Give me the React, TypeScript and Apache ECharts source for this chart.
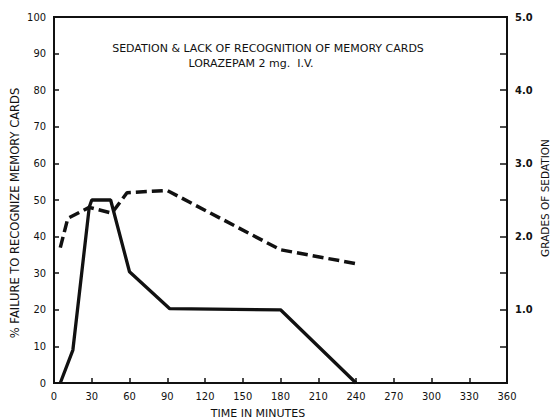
import React, { useEffect, useRef } from "react";
import * as echarts from "echarts";

const timeTicks = [0, 30, 60, 90, 120, 150, 180, 210, 240, 270, 300, 330, 360];
const failureTimes = [5, 15, 28, 30, 45, 60, 92, 180, 240];
const failureValues = [0, 9, 48, 50, 50, 30.4, 20.3, 20, 0];
const sedationTimes = [5, 11, 28, 46, 58, 90, 180, 240];
const sedationValues = [1.85, 2.25, 2.4, 2.32, 2.6, 2.63, 1.82, 1.63];
const titleLine1 = "SEDATION & LACK OF RECOGNITION OF MEMORY CARDS";
const titleLine2 = "LORAZEPAM 2 mg.  I.V.";
const xTitle = "TIME IN MINUTES";
const yLeftTitle = "% FAILURE TO RECOGNIZE MEMORY CARDS";
const yRightTitle = "GRADES OF SEDATION";

const FONT = "'DejaVu Sans Condensed', 'DejaVu Sans', sans-serif";
const WFONT = "'DejaVu Sans', sans-serif";
const INK = "#111";

export default function App() {
  const ref = useRef<HTMLDivElement>(null);
  useEffect(() => {
    if (!ref.current) return;
    const chart = echarts.init(ref.current, undefined, { renderer: "svg" });
    const axisLine = { show: true, lineStyle: { color: INK, width: 2 } };
    chart.setOption({
      animation: false,
      backgroundColor: "#fff",
      textStyle: { fontFamily: FONT, color: INK },
      grid: {
        left: 54,
        right: 46,
        top: 17,
        bottom: 37,
        show: true,
        borderColor: INK,
        borderWidth: 2,
      },
      xAxis: {
        type: "value",
        min: 0,
        max: 360,
        interval: 30,
        axisLine,
        axisTick: { show: true, inside: true, length: 5, lineStyle: { color: INK, width: 1.5 } },
        axisLabel: {
          color: INK,
          fontSize: 11,
          fontFamily: FONT,
          margin: 8,
          customValues: timeTicks,
          formatter: (v: number) => String(v),
        },
        splitLine: { show: false },
      },
      yAxis: [
        {
          type: "value",
          min: 0,
          max: 100,
          interval: 10,
          axisLine,
          axisTick: { show: true, inside: true, length: 5, lineStyle: { color: INK, width: 1.5 } },
          axisLabel: { color: INK, fontSize: 11, fontFamily: FONT, margin: 8 },
          splitLine: { show: false },
        },
        {
          type: "value",
          position: "right",
          min: 0,
          max: 5,
          interval: 0.5,
          axisLine,
          axisTick: { show: true, inside: true, length: 7, lineStyle: { color: INK, width: 1.5 } },
          axisLabel: {
            color: INK,
            fontSize: 11,
            fontFamily: FONT,
            fontWeight: "bold",
            margin: 8,
            formatter: (v: number) => (v > 0 && Math.abs(v - Math.round(v)) < 1e-6 ? v.toFixed(1) : ""),
          },
          splitLine: { show: false },
        },
      ],
      graphic: [
        {
          type: "text",
          x: 268,
          y: 48,
          style: { text: titleLine1, fontSize: 11, fontFamily: WFONT, fill: INK, align: "center", verticalAlign: "middle" },
        },
        {
          type: "text",
          x: 251,
          y: 63,
          style: { text: titleLine2, fontSize: 11, fontFamily: WFONT, fill: INK, align: "center", verticalAlign: "middle" },
        },
        {
          type: "text",
          x: 258,
          y: 413,
          style: { text: xTitle, fontSize: 11, fontFamily: WFONT, fill: INK, align: "center", verticalAlign: "middle" },
        },
        {
          type: "text",
          x: 15,
          y: 213,
          rotation: Math.PI / 2,
          style: { text: yLeftTitle, fontSize: 11.5, fontFamily: WFONT, fill: INK, align: "center", verticalAlign: "middle" },
        },
        {
          type: "text",
          x: 545,
          y: 198,
          rotation: Math.PI / 2,
          style: { text: yRightTitle, fontSize: 10.5, fontFamily: WFONT, fill: INK, align: "center", verticalAlign: "middle" },
        },
      ],
      series: [
        {
          name: "failure",
          type: "line",
          yAxisIndex: 0,
          symbol: "none",
          data: failureTimes.map((t, i) => [t, failureValues[i]]),
          lineStyle: { color: INK, width: 3.3 },
          z: 3,
        },
        {
          name: "sedation",
          type: "line",
          yAxisIndex: 1,
          symbol: "none",
          data: sedationTimes.map((t, i) => [t, sedationValues[i]]),
          lineStyle: { color: INK, width: 3.5, type: [11, 5] },
          z: 3,
        },
      ],
    });
    return () => chart.dispose();
  }, []);
  return <div ref={ref} style={{ width: 553, height: 420, position: "absolute", left: 0, top: 0 }} />;
}
